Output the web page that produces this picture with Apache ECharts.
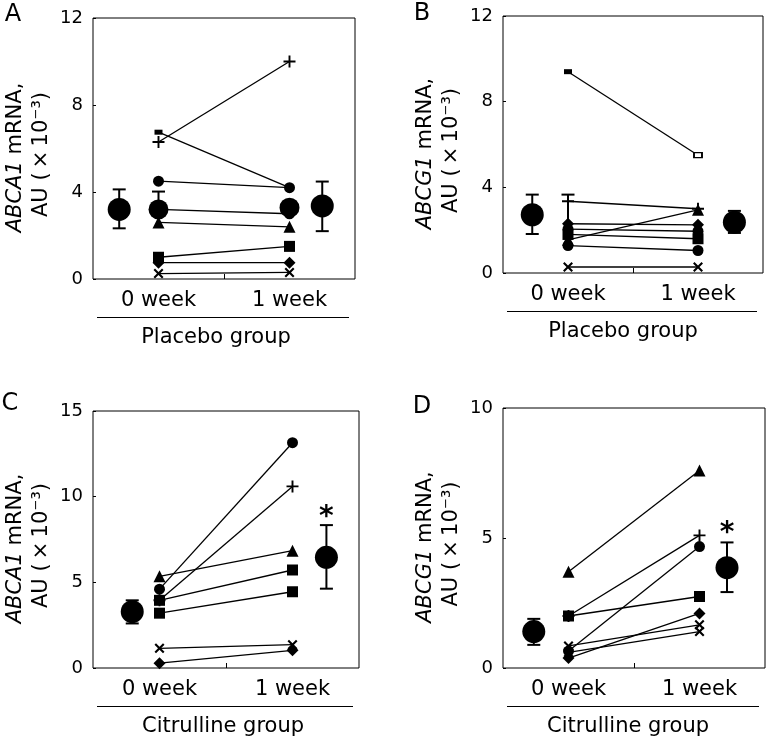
<!DOCTYPE html>
<html>
<head>
<meta charset="utf-8">
<script src="https://cdn.jsdelivr.net/npm/echarts@6/dist/echarts.min.js"></script>
<style>
html,body{margin:0;padding:0;background:#fff;}
#chart{width:767px;height:740px;}
</style>
</head>
<body>
<div id="chart"></div>
<script>
// ---------------- DATA ----------------
const weekLabels = ['0 week', '1 week'];
const groupNames = ['Placebo group', 'Placebo group', 'Citrulline group', 'Citrulline group'];
const geneNames = ['ABCA1', 'ABCG1', 'ABCA1', 'ABCG1'];
const panelLetters = ['A', 'B', 'C', 'D'];

// Panel A: placebo, ABCA1 (individual subjects)
const placeboABCA1_week0 = [6.3, 6.75, 4.5, 3.2, 2.6, 1.0, 0.75, 0.25];
const placeboABCA1_week1 = [10.0, 4.2, 4.2, 3.0, 2.4, 1.5, 0.75, 0.3];
const placeboABCA1_symbols = ['plus', 'small', 'circle', 'circle', 'triangle', 'rect', 'diamond', 'x'];
const placeboABCA1_mean = [3.2, 3.36];
const placeboABCA1_errLow = [2.33, 2.2];
const placeboABCA1_errHigh = [4.12, 4.48];
const placeboABCA1_innerMean = [3.2, 3.28];
const placeboABCA1_innerErrHigh = [4.02, 3.28];

// Panel B: placebo, ABCG1
const placeboABCG1_week0 = [9.4, 3.35, 2.3, 2.05, 1.8, 1.55, 1.28, 0.28];
const placeboABCG1_week1 = [5.5, 3.0, 2.25, 1.95, 1.6, 2.95, 1.05, 0.28];
const placeboABCG1_symbols = ['small', 'plus', 'diamond', 'circle', 'rect', 'triangle', 'circle', 'x'];
const placeboABCG1_mean = [2.72, 2.37];
const placeboABCG1_errLow = [1.82, 1.87];
const placeboABCG1_errHigh = [3.66, 2.9];
const placeboABCG1_innerLow = [1.75];
const placeboABCG1_innerErrHigh = [3.66];

// Panel C: citrulline, ABCA1
const citrullineABCA1_week0 = [4.6, 3.95, 5.35, 3.95, 3.2, 1.15, 0.28];
const citrullineABCA1_week1 = [13.15, 10.6, 6.85, 5.72, 4.45, 1.36, 1.03];
const citrullineABCA1_symbols = ['circle', 'plus', 'triangle', 'rect', 'rect', 'x', 'diamond'];
const citrullineABCA1_mean = [3.29, 6.46];
const citrullineABCA1_errLow = [2.6, 4.63];
const citrullineABCA1_errHigh = [3.95, 8.34];
const citrullineABCA1_sig = [8.8];

// Panel D: citrulline, ABCG1
const citrullineABCG1_week0 = [3.7, 2.0, 0.65, 2.0, 0.38, 0.85, 0.6];
const citrullineABCG1_week1 = [7.6, 5.1, 4.67, 2.75, 2.1, 1.66, 1.4];
const citrullineABCG1_symbols = ['triangle', 'plus', 'circle', 'rect', 'diamond', 'x', 'x'];
const citrullineABCG1_mean = [1.4, 3.86];
const citrullineABCG1_errLow = [0.89, 2.92];
const citrullineABCG1_errHigh = [1.89, 4.83];
const citrullineABCG1_sig = [5.15];

// y-axis ticks
const yMaxA = 12, yStepA = 4;
const yMaxB = 12, yStepB = 4;
const yMaxC = 15, yStepC = 5;
const yMaxD = 10, yStepD = 5;

// ---------------- LAYOUT / STYLE ----------------
const FONT = 'DejaVu Sans';
const BLACK = '#000';
const grids = [
  {left: 93, top: 18, width: 262, height: 261},
  {left: 503, top: 16, width: 260, height: 257},
  {left: 93, top: 411, width: 266, height: 257},
  {left: 503, top: 408, width: 262, height: 260}
];
// x positions on a 0..4 value axis: 0 week = 1, 1 week = 3
const X0 = 1, X1 = 3;
const meanXs = [[0.4, 3.5], [0.45, 3.56], [0.59, 3.51], [0.47, 3.42]];
const groupLabelX = [216, 623, 223, 628];
const letterPos = [[13, 15], [422, 14], [10, 404], [422, 407]];

const SYM = {
  plus: {symbol: 'path://M4.2,0H5.8V4.2H10V5.8H5.8V10H4.2V5.8H0V4.2H4.2Z', size: 12},
  x: {symbol: 'path://M0,1.5L1.5,0L5,3.5L8.5,0L10,1.5L6.5,5L10,8.5L8.5,10L5,6.5L1.5,10L0,8.5L3.5,5Z', size: 10},
  circle: {symbol: 'circle', size: 11},
  rect: {symbol: 'rect', size: 11},
  triangle: {symbol: 'triangle', size: 12},
  diamond: {symbol: 'diamond', size: 12},
  small: {symbol: 'rect', size: [8, 5]}
};

const panels = [
  {w0: placeboABCA1_week0, w1: placeboABCA1_week1, sym: placeboABCA1_symbols,
   mean: placeboABCA1_mean, lo: placeboABCA1_errLow, hi: placeboABCA1_errHigh, yMax: yMaxA, yStep: yStepA},
  {w0: placeboABCG1_week0, w1: placeboABCG1_week1, sym: placeboABCG1_symbols,
   mean: placeboABCG1_mean, lo: placeboABCG1_errLow, hi: placeboABCG1_errHigh, yMax: yMaxB, yStep: yStepB},
  {w0: citrullineABCA1_week0, w1: citrullineABCA1_week1, sym: citrullineABCA1_symbols,
   mean: citrullineABCA1_mean, lo: citrullineABCA1_errLow, hi: citrullineABCA1_errHigh, yMax: yMaxC, yStep: yStepC, sig: citrullineABCA1_sig},
  {w0: citrullineABCG1_week0, w1: citrullineABCG1_week1, sym: citrullineABCG1_symbols,
   mean: citrullineABCG1_mean, lo: citrullineABCG1_errLow, hi: citrullineABCG1_errHigh, yMax: yMaxD, yStep: yStepD, sig: citrullineABCG1_sig}
];

function errRender(params, api) {
  const x = api.value(0), lo = api.value(1), hi = api.value(2), capLo = api.value(3);
  const pLo = api.coord([x, lo]), pHi = api.coord([x, hi]);
  const hw = 6.5;
  const st = {stroke: BLACK, lineWidth: 2};
  const children = [
    {type: 'line', shape: {x1: pLo[0], y1: pLo[1], x2: pHi[0], y2: pHi[1]}, style: st},
    {type: 'line', shape: {x1: pHi[0] - hw, y1: pHi[1], x2: pHi[0] + hw, y2: pHi[1]}, style: st}
  ];
  if (capLo) children.push({type: 'line', shape: {x1: pLo[0] - hw, y1: pLo[1], x2: pLo[0] + hw, y2: pLo[1]}, style: st});
  return {type: 'group', children};
}

const option = {
  animation: false,
  backgroundColor: '#fff',
  grid: [], xAxis: [], yAxis: [], series: [], graphic: []
};

panels.forEach((p, i) => {
  const g = grids[i];
  option.grid.push(Object.assign({show: true, borderColor: BLACK, borderWidth: 1, backgroundColor: 'transparent'}, g));
  option.xAxis.push({
    type: 'value', gridIndex: i, min: 0, max: 4, interval: 1,
    axisLine: {show: false}, splitLine: {show: false},
    axisTick: {show: true, inside: true, length: 5, lineStyle: {color: BLACK, width: 1}, customValues: [2]},
    axisLabel: {show: true, margin: 11, color: BLACK, fontFamily: FONT, fontSize: 21,
      customValues: [X0, X1],
      formatter: v => (v === X0 ? weekLabels[0] : v === X1 ? weekLabels[1] : '')}
  });
  option.yAxis.push({
    type: 'value', gridIndex: i, min: 0, max: p.yMax, interval: p.yStep,
    axisLine: {show: false}, splitLine: {show: false},
    axisTick: {show: true, inside: true, length: 3, lineStyle: {color: BLACK, width: 1}},
    axisLabel: {margin: 10, color: BLACK, fontFamily: FONT, fontSize: 18}
  });

  // individual subject lines
  p.w0.forEach((v0, k) => {
    const s = SYM[p.sym[k]];
    const d1 = (i === 1 && k === 0)
      ? {value: [X1, p.w1[k]], itemStyle: {color: '#fff', borderColor: BLACK, borderWidth: 1.5}}
      : [X1, p.w1[k]];
    option.series.push({
      type: 'line', xAxisIndex: i, yAxisIndex: i, silent: true, z: 3,
      data: [[X0, v0], d1],
      symbol: s.symbol, symbolSize: s.size, showSymbol: true,
      lineStyle: {color: BLACK, width: 1.3}, itemStyle: {color: BLACK}
    });
  });

  // error bars for group means
  const errData = [
    [meanXs[i][0], p.lo[0], p.hi[0], 1],
    [meanXs[i][1], p.lo[1], p.hi[1], 1]
  ];
  if (i === 0) errData.push([X0, placeboABCA1_innerMean[0], placeboABCA1_innerErrHigh[0], 0]);
  if (i === 1) errData.push([X0, placeboABCG1_innerLow[0], placeboABCG1_innerErrHigh[0], 0]);
  option.series.push({
    type: 'custom', xAxisIndex: i, yAxisIndex: i, silent: true, z: 4,
    renderItem: errRender, encode: {x: 0, y: [1, 2]}, data: errData
  });

  // group mean markers
  option.series.push({
    type: 'scatter', xAxisIndex: i, yAxisIndex: i, silent: true, z: 5,
    symbol: 'circle', symbolSize: 23, itemStyle: {color: BLACK, opacity: 1},
    data: [[meanXs[i][0], p.mean[0]], [meanXs[i][1], p.mean[1]]]
  });
  if (i === 0) {
    option.series.push({
      type: 'scatter', xAxisIndex: i, yAxisIndex: i, silent: true, z: 5,
      symbol: 'circle', symbolSize: 20, itemStyle: {color: BLACK, opacity: 1},
      data: [[X0, placeboABCA1_innerMean[0]], [X1, placeboABCA1_innerMean[1]]]
    });
  }

  // significance asterisk
  if (p.sig) {
    option.series.push({
      type: 'scatter', xAxisIndex: i, yAxisIndex: i, silent: true, z: 6,
      symbol: 'circle', symbolSize: 2, itemStyle: {color: 'rgba(0,0,0,0)'},
      label: {show: true, position: 'inside', formatter: '*', color: '#000', fontFamily: FONT,
        fontSize: 28, fontWeight: 'bold', textBorderWidth: 0, opacity: 1},
      data: [[meanXs[i][1], p.sig[0]]]
    });
  }

  // text decorations
  const bottom = g.top + g.height;
  const cy = g.top + g.height / 2;
  option.graphic.push(
    {type: 'text', x: letterPos[i][0], y: letterPos[i][1], silent: true,
     style: {text: panelLetters[i], fontFamily: FONT, fontSize: 24, fill: BLACK, align: 'center', verticalAlign: 'middle'}},
    {type: 'text', x: g.left - 77, y: cy + 9, rotation: Math.PI / 2, silent: true,
     style: {text: '{i|' + geneNames[i] + '} mRNA,', fontFamily: FONT, fontSize: 21, fill: BLACK,
       align: 'center', verticalAlign: 'middle',
       rich: {i: {fontStyle: 'italic', fontFamily: FONT, fontSize: 21, fill: BLACK}}}},
    {type: 'text', x: g.left - 51, y: cy + 6, rotation: Math.PI / 2, silent: true,
     style: {text: 'AU (\u2009×\u200910⁻³)', fontFamily: FONT, fontSize: 21, fill: BLACK, align: 'center', verticalAlign: 'middle'}},
    {type: 'line', silent: true,
     shape: {x1: g.left + 4, y1: bottom + 38.5, x2: g.left + g.width - 6, y2: bottom + 38.5},
     style: {stroke: BLACK, lineWidth: 1.2}},
    {type: 'text', x: groupLabelX[i], y: bottom + 59, silent: true,
     style: {text: groupNames[i], fontFamily: FONT, fontSize: 21, fill: BLACK, align: 'center', verticalAlign: 'middle'}}
  );
});

const chart = echarts.init(document.getElementById('chart'), null, {renderer: 'canvas'});
chart.setOption(option);
</script>
</body>
</html>
